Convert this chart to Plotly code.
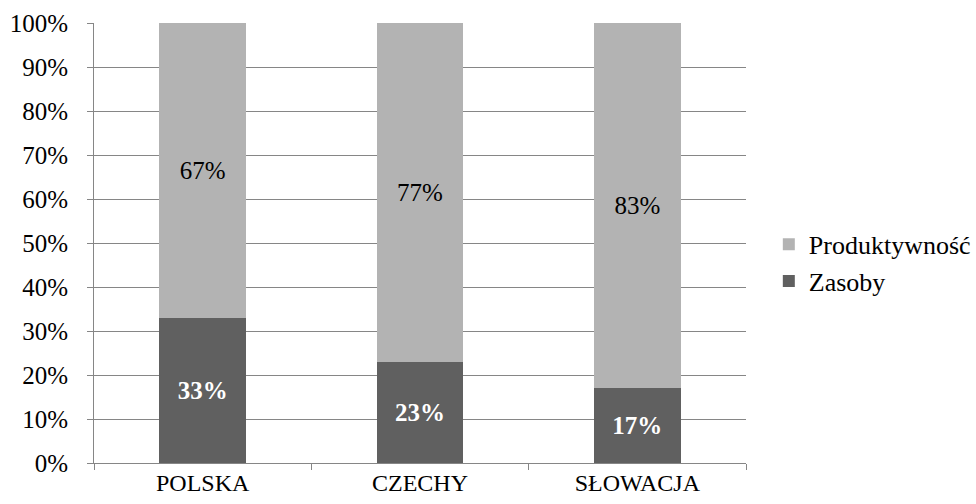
import plotly.graph_objects as go

# Country categories and the share of each growth factor (in percent)
countries = ["POLSKA", "CZECHY", "SŁOWACJA"]
zasoby = [33, 23, 17]
produktywnosc = [67, 77, 83]

FONT = "'Times New Roman', 'Liberation Serif', serif"
GRID = "#868686"

fig = go.Figure()
fig.add_trace(go.Bar(
    x=countries, y=zasoby, name="Zasoby",
    marker=dict(color="#606060", line=dict(width=0)),
    width=0.4,
    text=[f"<b>{v}%</b>" for v in zasoby], texttemplate="%{text}",
    textposition="inside", insidetextanchor="middle",
    textfont=dict(family=FONT, size=26, color="white"),
    legendgroup="z",
))
fig.add_trace(go.Bar(
    x=countries, y=produktywnosc, name="Produktywność",
    marker=dict(color="#b3b3b3", line=dict(width=0)),
    width=0.4,
    text=[f"{v}%" for v in produktywnosc], texttemplate="%{text}",
    textposition="inside", insidetextanchor="middle",
    textfont=dict(family=FONT, size=25, color="black"),
    legendgroup="p",
))

fig.update_layout(
    barmode="stack",
    width=976, height=504,
    margin=dict(l=94, r=230, t=23, b=41, autoexpand=False),
    paper_bgcolor="white", plot_bgcolor="white",
    font=dict(family=FONT, size=25, color="black"),
    uniformtext=dict(minsize=20, mode="show"),
    legend=dict(
        x=1.035, y=0.455, xanchor="left", yanchor="middle",
        traceorder="reversed", tracegroupgap=10,
        font=dict(family=FONT, size=26, color="black"),
        itemwidth=30,
    ),
    showlegend=True,
)
fig.update_yaxes(
    range=[0, 100], tickmode="linear", tick0=0, dtick=10, ticksuffix="%",
    tickfont=dict(family=FONT, size=25, color="black"),
    ticklabelstandoff=14, automargin=False,
    showgrid=True, gridcolor=GRID, gridwidth=1,
    showline=True, linecolor=GRID, linewidth=1,
    ticks="outside", ticklen=6, tickcolor=GRID,
    zeroline=False, fixedrange=True,
)
fig.update_xaxes(
    tickfont=dict(family=FONT, size=24, color="black"),
    ticklabelstandoff=-2, automargin=False,
    showline=True, linecolor=GRID, linewidth=1,
    ticks="outside", ticklen=6, tickcolor=GRID, tickson="boundaries",
    showgrid=False,
)

fig.write_html("out.html")
